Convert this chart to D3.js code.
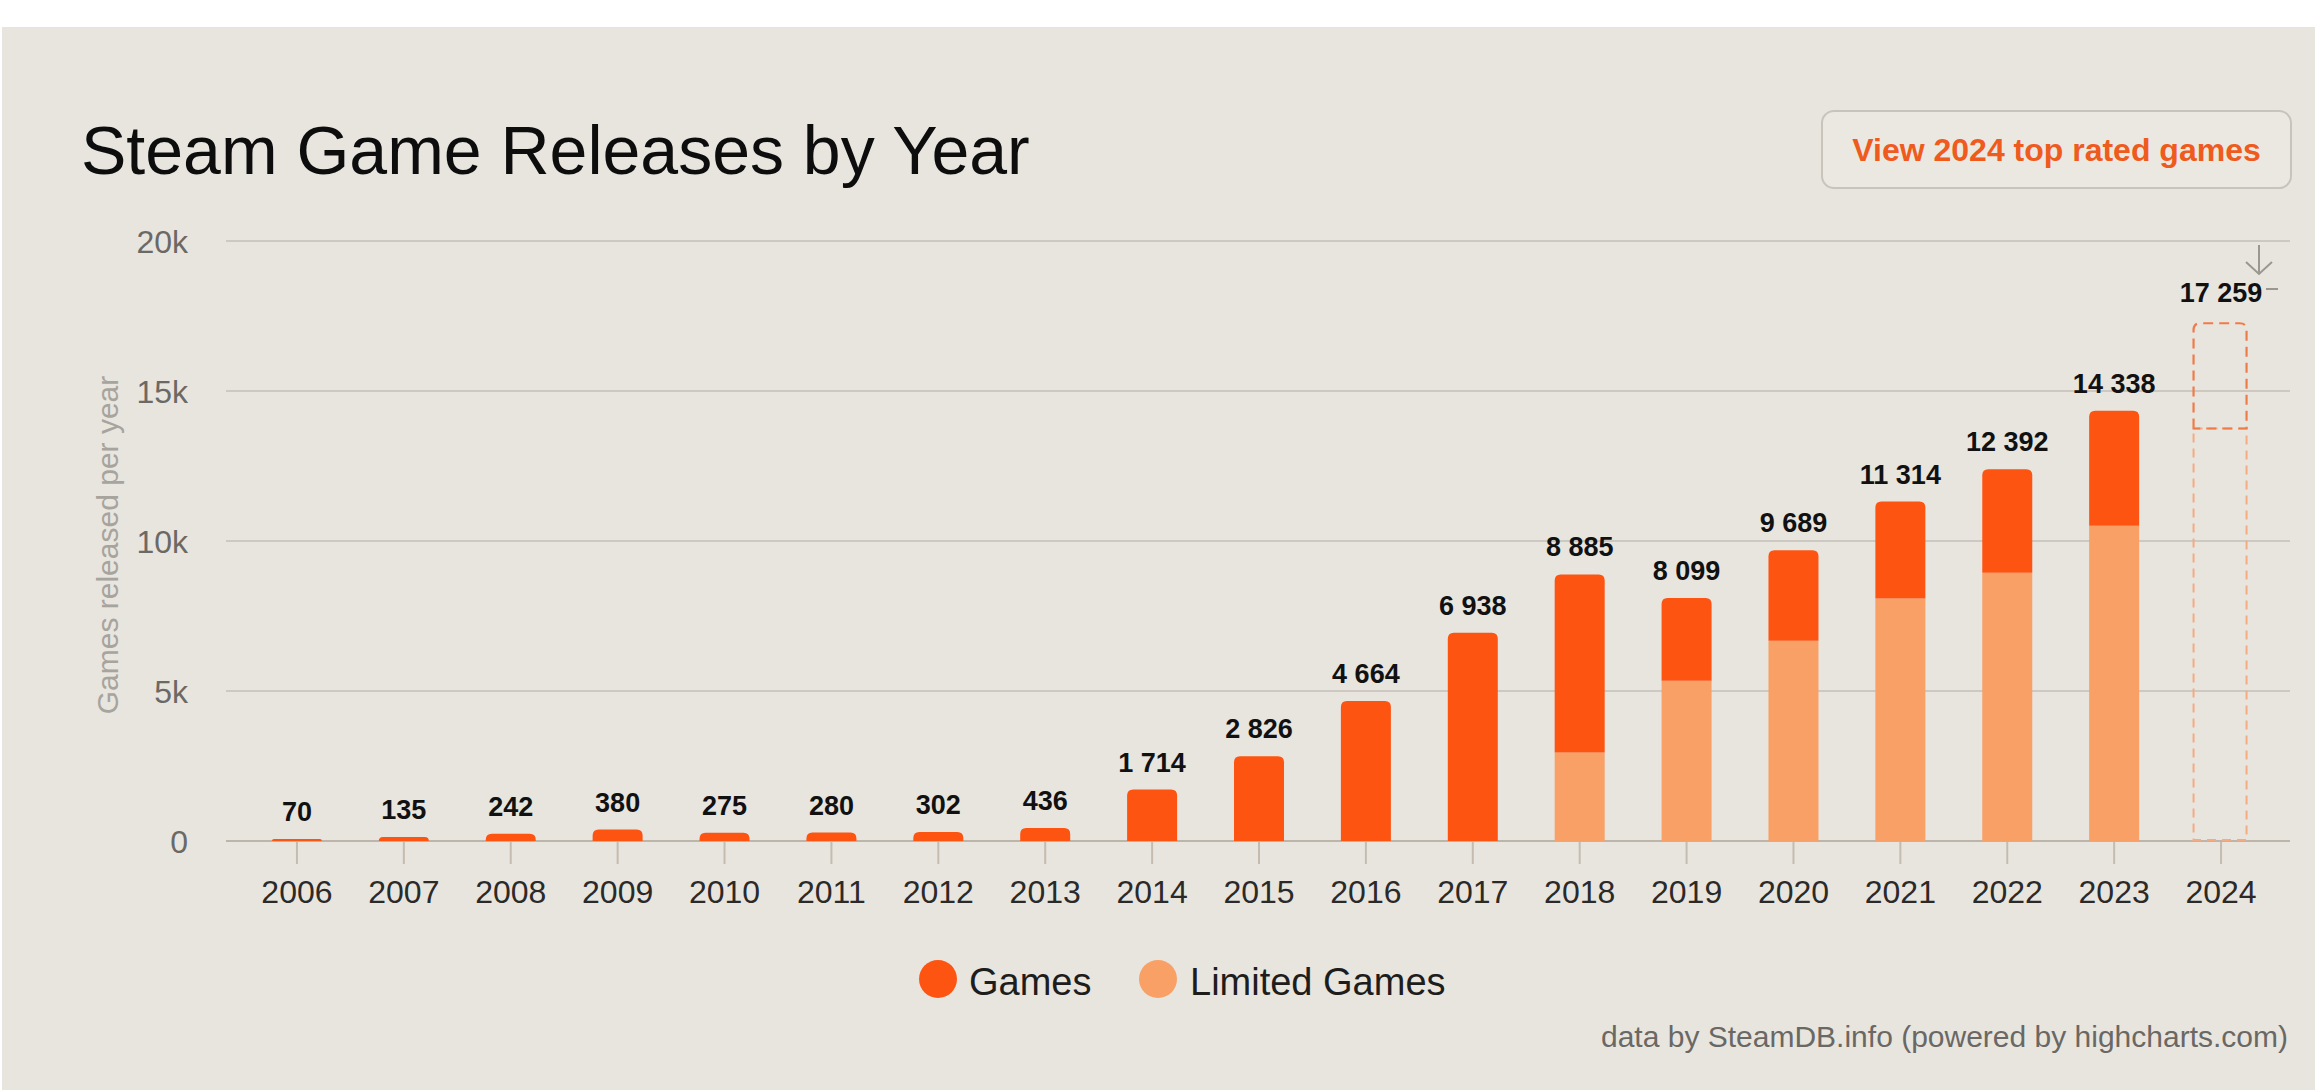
<!DOCTYPE html>
<html>
<head>
<meta charset="utf-8">
<script src="https://cdn.jsdelivr.net/npm/d3@7"></script>
<style>
  html, body { margin: 0; padding: 0; background: #ffffff; }
  svg { display: block; }
  text { font-family: "Liberation Sans", Arial, sans-serif; }
</style>
</head>
<body>
<svg id="chart" width="2315" height="1090"></svg>
<script>
// ---- data ----
const years = ["2006","2007","2008","2009","2010","2011","2012","2013","2014","2015","2016","2017","2018","2019","2020","2021","2022","2023"];
const games = [70,135,242,380,275,280,302,436,1714,2826,4664,6938,5935,2759,3014,3234,3452,3833];
const limitedGames = [0,0,0,0,0,0,0,0,0,0,0,0,2950,5340,6675,8080,8940,10505];
const projectedYear = "2024";
const projectedGames = 3509;
const projectedLimited = 13750;
const yTicks = [0, 5000, 10000, 15000, 20000];
const yTickLabels = ["0", "5k", "10k", "15k", "20k"];
const seriesNames = ["Games", "Limited Games"];

// ---- styles ----
const W = 2315, H = 1090;
const C_GAMES = "#fd5412";
const C_LIMITED = "#f8a066";
const BG = "#e8e5df";

const svg = d3.select("#chart");
svg.append("rect").attr("x", 2).attr("y", 27).attr("width", W - 2).attr("height", H - 27).attr("fill", BG);

const allYears = years.concat([projectedYear]);
const x = d3.scaleBand().domain(allYears).range([243.5, 2274.5]).paddingInner(0).paddingOuter(0);
const y = d3.scaleLinear().domain([0, 20000]).range([841, 241]);
const barW = 50;
const gridX0 = 226, gridX1 = 2290;

// gridlines
svg.append("g").selectAll("line").data(yTicks.filter(d => d > 0)).join("line")
  .attr("x1", gridX0).attr("x2", gridX1)
  .attr("y1", d => y(d)).attr("y2", d => y(d))
  .attr("stroke", "#cdc9c2").attr("stroke-width", 2);

// y axis labels
svg.append("g").selectAll("text").data(yTicks).join("text")
  .attr("x", 188).attr("y", d => y(d)).attr("dy", "0.36em")
  .attr("text-anchor", "end").attr("font-size", 32).attr("fill", "#6b6966")
  .text((d, i) => yTickLabels[i]);

// y axis title
svg.append("text")
  .attr("transform", "translate(118,545) rotate(-90)")
  .attr("text-anchor", "middle").attr("font-size", 30).attr("fill", "#a7a39d")
  .text("Games released per year");

// x axis line + ticks
svg.append("line").attr("x1", gridX0).attr("x2", gridX1).attr("y1", y(0)).attr("y2", y(0))
  .attr("stroke", "#bdb5aa").attr("stroke-width", 2);
const cx = d => x(d) + x.bandwidth() / 2;
svg.append("g").selectAll("line").data(allYears).join("line")
  .attr("x1", d => cx(d)).attr("x2", d => cx(d))
  .attr("y1", y(0) + 1).attr("y2", y(0) + 23)
  .attr("stroke", "#c4bcb0").attr("stroke-width", 2);
svg.append("g").selectAll("text").data(allYears).join("text")
  .attr("x", d => cx(d)).attr("y", 903)
  .attr("text-anchor", "middle").attr("font-size", 32).attr("fill", "#2b2a29")
  .text(d => d);

// rounded-top rect path
function topRounded(x0, y0, w, h, r) {
  r = Math.min(r, h, w / 2);
  return `M${x0},${y0 + h} V${y0 + r} Q${x0},${y0} ${x0 + r},${y0} H${x0 + w - r} Q${x0 + w},${y0} ${x0 + w},${y0 + r} V${y0 + h} Z`;
}

const stackData = years.map((yr, i) => ({ yr, g: games[i], l: limitedGames[i] }));

// limited (bottom)
svg.append("g").selectAll("rect").data(stackData.filter(d => d.l > 0)).join("rect")
  .attr("x", d => cx(d.yr) - barW / 2).attr("width", barW)
  .attr("y", d => y(d.l)).attr("height", d => y(0) - y(d.l))
  .attr("fill", C_LIMITED);
// games (top, rounded)
svg.append("g").selectAll("path").data(stackData).join("path")
  .attr("d", d => topRounded(cx(d.yr) - barW / 2, y(d.l + d.g), barW, y(d.l) - y(d.l + d.g), 6))
  .attr("fill", C_GAMES);

// data labels
const fmt = v => d3.format(",")(v).replace(/,/g, " ");
svg.append("g").selectAll("text").data(stackData).join("text")
  .attr("x", d => cx(d.yr)).attr("y", d => y(d.l + d.g) - 18)
  .attr("text-anchor", "middle").attr("font-size", 27).attr("font-weight", "bold").attr("fill", "#111")
  .text(d => fmt(d.l + d.g));

// projected 2024 (dashed)
const px = cx(projectedYear) - 1 - 53 / 2, pw = 53;
svg.append("rect")
  .attr("x", px).attr("width", pw)
  .attr("y", y(projectedLimited)).attr("height", y(0) - y(projectedLimited) - 1)
  .attr("fill", "none").attr("stroke", "#f5ab82").attr("stroke-width", 2).attr("stroke-dasharray", "9,6");
svg.append("path")
  .attr("d", topRounded(px, y(projectedLimited + projectedGames), pw, y(projectedLimited) - y(projectedLimited + projectedGames), 7))
  .attr("fill", "none").attr("stroke", "#ee7c48").attr("stroke-width", 2.2).attr("stroke-dasharray", "10,6");
svg.append("text")
  .attr("x", cx(projectedYear)).attr("y", y(projectedLimited + projectedGames) - 21)
  .attr("text-anchor", "middle").attr("font-size", 27).attr("font-weight", "bold").attr("fill", "#111")
  .text(fmt(projectedLimited + projectedGames));

// small download-like arrow icon
const ic = svg.append("g").attr("stroke", "#9a9792").attr("stroke-width", 2).attr("fill", "none");
ic.append("line").attr("x1", 2259).attr("x2", 2259).attr("y1", 245).attr("y2", 273);
ic.append("path").attr("d", "M2246,262 L2259,274 L2272,262");
ic.append("line").attr("x1", 2266).attr("x2", 2278).attr("y1", 289).attr("y2", 289);

// title
svg.append("text").attr("x", 81).attr("y", 174)
  .attr("font-size", 68).attr("fill", "#0d0d0d").text("Steam Game Releases by Year");

// button
svg.append("rect").attr("x", 1822).attr("y", 111).attr("width", 469).attr("height", 77).attr("rx", 12)
  .attr("fill", "#ebe8e2").attr("stroke", "#c9c4bb").attr("stroke-width", 2);
svg.append("text").attr("x", 2056.5).attr("y", 161).attr("text-anchor", "middle")
  .attr("font-size", 32).attr("font-weight", "bold").attr("fill", "#ef5a1d")
  .text("View 2024 top rated games");

// legend
const legend = [
  { name: seriesNames[0], color: C_GAMES, cx: 938, tx: 969 },
  { name: seriesNames[1], color: C_LIMITED, cx: 1158, tx: 1190 }
];
const lg = svg.append("g");
lg.selectAll("circle").data(legend).join("circle")
  .attr("cx", d => d.cx).attr("cy", 979).attr("r", 19).attr("fill", d => d.color);
lg.selectAll("text").data(legend).join("text")
  .attr("x", d => d.tx).attr("y", 995).attr("font-size", 38).attr("fill", "#1e1d1c")
  .text(d => d.name);

// credits
svg.append("text").attr("x", 2288).attr("y", 1047).attr("text-anchor", "end")
  .attr("font-size", 30).attr("fill", "#6a6864")
  .text("data by SteamDB.info (powered by highcharts.com)");
</script>
</body>
</html>
